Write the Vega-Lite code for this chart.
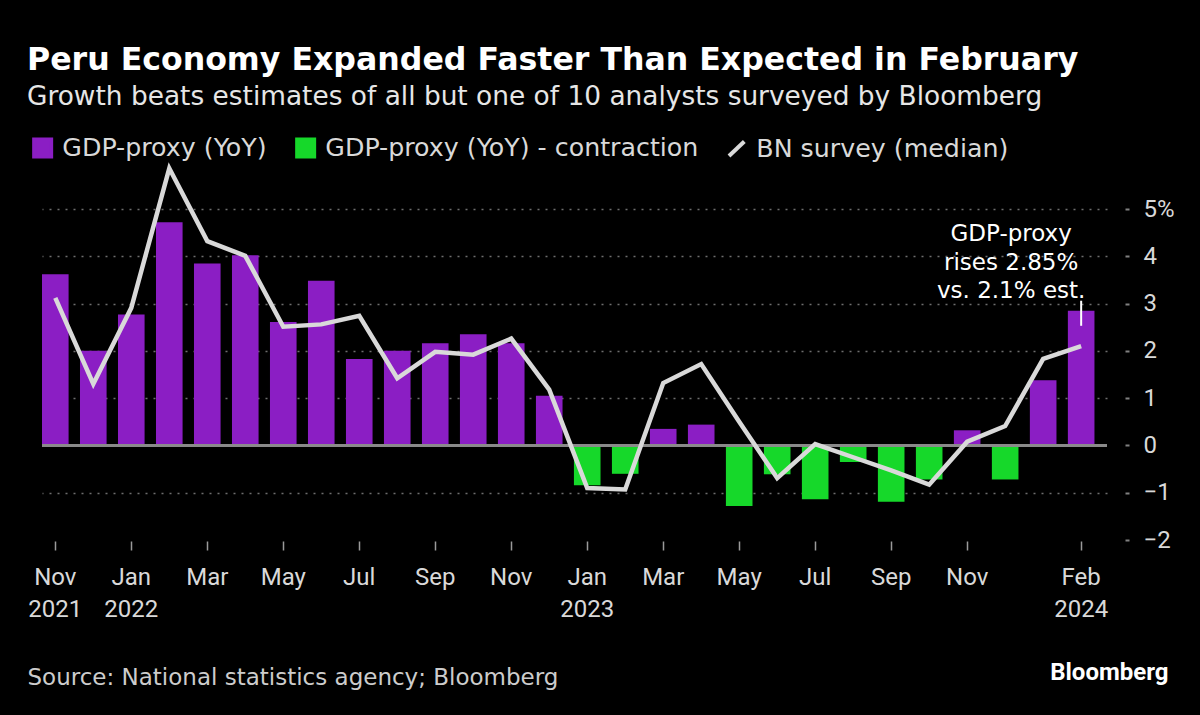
{
  "$schema": "https://vega.github.io/schema/vega-lite/v6.json",
  "autosize": {"type": "none"},
  "width": 1065,
  "height": 331,
  "padding": {"left": 42, "top": 209, "right": 93, "bottom": 175},
  "background": "#000000",
  "config": {
    "view": {"stroke": null},
    "font": "Roboto",
    "axis": {"labelFont": "Roboto", "titleFont": "Roboto"},
    "legend": {"labelFont": "DejaVu Sans"}
  },
  "title": {
    "text": "Peru Economy Expanded Faster Than Expected in February",
    "subtitle": "Growth beats estimates of all but one of 10 analysts surveyed by Bloomberg",
    "anchor": "start",
    "frame": "group",
    "dx": -15,
    "offset": 25,
    "font": "DejaVu Sans",
    "fontSize": 31.6,
    "fontWeight": "bold",
    "color": "#ffffff",
    "subtitleFont": "DejaVu Sans",
    "subtitleFontSize": 26.4,
    "subtitleColor": "#e6e6e6",
    "subtitlePadding": 7
  },
  "data": {
    "values": [
      {"m": "2021-11", "gdp": 3.62, "bn": 3.12, "s": "GDP-proxy (YoY)"},
      {"m": "2021-12", "gdp": 2.0, "bn": 1.3, "s": "GDP-proxy (YoY)"},
      {"m": "2022-01", "gdp": 2.77, "bn": 2.91, "s": "GDP-proxy (YoY)"},
      {"m": "2022-02", "gdp": 4.72, "bn": 5.86, "s": "GDP-proxy (YoY)"},
      {"m": "2022-03", "gdp": 3.85, "bn": 4.32, "s": "GDP-proxy (YoY)"},
      {"m": "2022-04", "gdp": 4.02, "bn": 4.01, "s": "GDP-proxy (YoY)"},
      {"m": "2022-05", "gdp": 2.61, "bn": 2.51, "s": "GDP-proxy (YoY)"},
      {"m": "2022-06", "gdp": 3.48, "bn": 2.56, "s": "GDP-proxy (YoY)"},
      {"m": "2022-07", "gdp": 1.83, "bn": 2.74, "s": "GDP-proxy (YoY)"},
      {"m": "2022-08", "gdp": 2.0, "bn": 1.42, "s": "GDP-proxy (YoY)"},
      {"m": "2022-09", "gdp": 2.16, "bn": 1.98, "s": "GDP-proxy (YoY)"},
      {"m": "2022-10", "gdp": 2.35, "bn": 1.92, "s": "GDP-proxy (YoY)"},
      {"m": "2022-11", "gdp": 2.16, "bn": 2.26, "s": "GDP-proxy (YoY)"},
      {"m": "2022-12", "gdp": 1.05, "bn": 1.18, "s": "GDP-proxy (YoY)"},
      {"m": "2023-01", "gdp": -0.84, "bn": -0.9, "s": "GDP-proxy (YoY) - contraction"},
      {"m": "2023-02", "gdp": -0.6, "bn": -0.93, "s": "GDP-proxy (YoY) - contraction"},
      {"m": "2023-03", "gdp": 0.35, "bn": 1.32, "s": "GDP-proxy (YoY)"},
      {"m": "2023-04", "gdp": 0.44, "bn": 1.72, "s": "GDP-proxy (YoY)"},
      {"m": "2023-05", "gdp": -1.28, "bn": 0.5, "s": "GDP-proxy (YoY) - contraction"},
      {"m": "2023-06", "gdp": -0.61, "bn": -0.69, "s": "GDP-proxy (YoY) - contraction"},
      {"m": "2023-07", "gdp": -1.14, "bn": 0.03, "s": "GDP-proxy (YoY) - contraction"},
      {"m": "2023-08", "gdp": -0.35, "bn": -0.25, "s": "GDP-proxy (YoY) - contraction"},
      {"m": "2023-09", "gdp": -1.19, "bn": -0.53, "s": "GDP-proxy (YoY) - contraction"},
      {"m": "2023-10", "gdp": -0.72, "bn": -0.83, "s": "GDP-proxy (YoY) - contraction"},
      {"m": "2023-11", "gdp": 0.32, "bn": 0.08, "s": "GDP-proxy (YoY)"},
      {"m": "2023-12", "gdp": -0.72, "bn": 0.41, "s": "GDP-proxy (YoY) - contraction"},
      {"m": "2024-01", "gdp": 1.38, "bn": 1.83, "s": "GDP-proxy (YoY)"},
      {"m": "2024-02", "gdp": 2.85, "bn": 2.1, "s": "GDP-proxy (YoY)"}
    ]
  },
  "layer": [
    {
      "mark": {"type": "bar"},
      "encoding": {
        "x": {
          "field": "m",
          "type": "ordinal",
          "sort": null,
          "scale": {"paddingInner": 0.3, "paddingOuter": 0.165, "align": 0},
          "axis": {
            "values": ["2021-11", "2022-01", "2022-03", "2022-05", "2022-07", "2022-09", "2022-11", "2023-01", "2023-03", "2023-05", "2023-07", "2023-09", "2023-11", "2024-02"],
            "labelExpr": "{'2021-11': ['Nov', '2021'], '2022-01': ['Jan', '2022'], '2022-03': 'Mar', '2022-05': 'May', '2022-07': 'Jul', '2022-09': 'Sep', '2022-11': 'Nov', '2023-01': ['Jan', '2023'], '2023-03': 'Mar', '2023-05': 'May', '2023-07': 'Jul', '2023-09': 'Sep', '2023-11': 'Nov', '2024-02': ['Feb', '2024']}[datum.value]",
            "labelAngle": 0,
            "labelFontSize": 24,
            "labelLineHeight": 32,
            "labelColor": "#d9d9d9",
            "labelPadding": 15,
            "labelBaseline": "top",
            "domain": false,
            "ticks": true,
            "tickSize": 9,
            "tickColor": "#9a9a9a",
            "tickWidth": 1.5,
            "offset": 1,
            "grid": false,
            "title": "Source: National statistics agency; Bloomberg",
            "titleFont": "DejaVu Sans",
            "titleFontSize": 23,
            "titleFontWeight": "normal",
            "titleColor": "#cccccc",
            "titleAnchor": "start",
            "titleAlign": "left",
            "titleBaseline": "middle",
            "titleX": -15,
            "titleY": 136
          }
        },
        "y": {
          "field": "gdp",
          "type": "quantitative",
          "scale": {"domain": [-2, 5], "nice": false, "zero": false},
          "axis": {
            "orient": "right",
            "values": [-2, -1, 0, 1, 2, 3, 4, 5],
            "labelExpr": "datum.value == 5 ? '5%' : datum.label",
            "labelFontSize": 24,
            "labelColor": "#d9d9d9",
            "labelAlign": "left",
            "labelBaseline": "middle",
            "labelPadding": 14,
            "domain": false,
            "ticks": true,
            "tickSize": 4,
            "tickColor": "#808080",
            "tickWidth": 2,
            "offset": 18,
            "grid": true,
            "gridColor": "#6e6e6e",
            "gridWidth": 1.5,
            "gridDash": [2, 6],
            "gridOpacity": {"condition": {"test": "datum.value == -2 || datum.value == 0", "value": 0}, "value": 1},
            "title": "Bloomberg",
            "titleAngle": 0,
            "titleFont": "Roboto",
            "titleFontSize": 24,
            "titleFontWeight": "bold",
            "titleColor": "#ffffff",
            "titleAlign": "right",
            "titleBaseline": "middle",
            "titleX": 43,
            "titleY": 463
          }
        },
        "color": {
          "field": "s",
          "type": "nominal",
          "scale": {
            "domain": ["GDP-proxy (YoY)", "GDP-proxy (YoY) - contraction", "BN survey (median)"],
            "range": ["#8b1ec4", "#16d82a", "#d9d9d9"]
          },
          "legend": {
            "title": null,
            "orient": "none",
            "legendX": -12,
            "legendY": -74,
            "direction": "horizontal",
            "labelFont": "DejaVu Sans",
            "labelFontSize": 25.3,
            "labelColor": "#d9d9d9",
            "labelOffset": 7,
            "labelLimit": 600,
            "columnPadding": 22,
            "symbolSize": 289,
            "symbolStrokeWidth": 0,
            "encode": {
              "symbols": {
                "update": {
                  "shape": {"signal": "datum.label === 'BN survey (median)' ? 'M-0.9,0.85L0.9,-0.85' : 'square'"},
                  "fill": {"signal": "datum.label === 'BN survey (median)' ? 'transparent' : (datum.label === 'GDP-proxy (YoY)' ? '#8b1ec4' : '#16d82a')"},
                  "stroke": {"signal": "datum.label === 'BN survey (median)' ? '#d9d9d9' : 'transparent'"},
                  "strokeWidth": {"value": 4},
                  "opacity": {"value": 1},
                  "fillOpacity": {"value": 1}
                }
              }
            }
          }
        }
      }
    },
    {
      "mark": {"type": "rule", "color": "#8a8a8a", "strokeWidth": 1.5},
      "encoding": {"y": {"datum": 0, "type": "quantitative"}}
    },
    {
      "mark": {"type": "line", "strokeWidth": 4.5, "strokeJoin": "miter", "strokeCap": "butt"},
      "encoding": {
        "x": {"field": "m", "type": "ordinal", "sort": null},
        "y": {"field": "bn", "type": "quantitative"},
        "color": {"datum": "BN survey (median)"}
      }
    },
    {
      "data": {"values": [{"m": "2024-02", "top": 3.06, "bottom": 2.53}]},
      "mark": {"type": "rule", "color": "#ffffff", "strokeWidth": 2},
      "encoding": {
        "x": {"field": "m", "type": "ordinal", "sort": null},
        "y": {"field": "top", "type": "quantitative"},
        "y2": {"field": "bottom"}
      }
    },
    {
      "data": {"values": [{"m": "2024-02", "v": 4.32, "label": "GDP-proxy\nrises 2.85%\nvs. 2.1% est."}]},
      "mark": {"type": "text", "color": "#ffffff", "fontSize": 23, "align": "center", "baseline": "alphabetic", "lineBreak": "\n", "lineHeight": 28.5, "dx": -70, "font": "DejaVu Sans"},
      "encoding": {
        "x": {"field": "m", "type": "ordinal", "sort": null},
        "y": {"field": "v", "type": "quantitative"},
        "text": {"field": "label"}
      }
    }
  ]
}
